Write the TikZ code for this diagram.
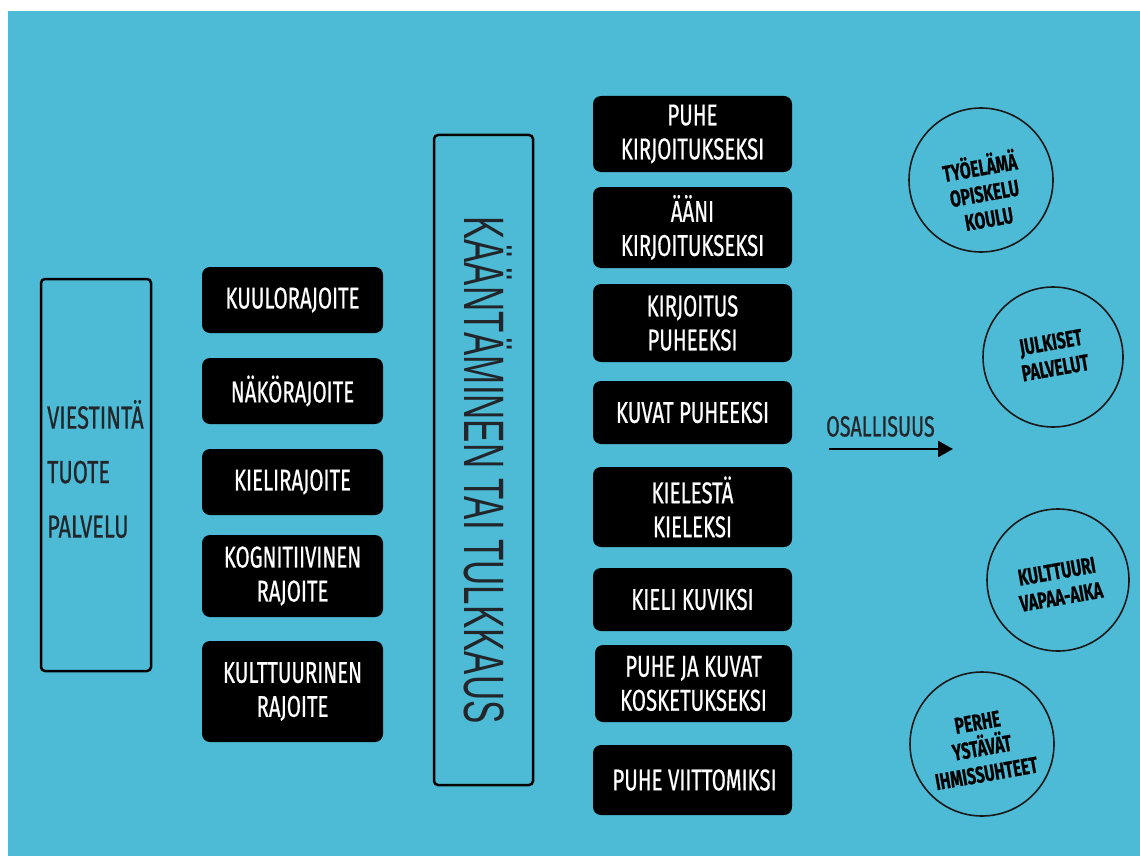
\documentclass[tikz,border=0pt]{standalone}
\usepackage{fontspec}
\usetikzlibrary{arrows.meta}
\newfontfamily\bb{Fira Sans}[FakeStretch=0.68,FakeBold=0.6]
\newfontfamily\bbn{Liberation Sans}
\definecolor{bg}{RGB}{78,187,214}
\definecolor{ink}{RGB}{34,38,42}
\tikzset{
  blk/.style={fill=black, rounded corners=8pt, text=white, align=center, inner sep=0pt,
    font=\bb\fontsize{30}{34}\selectfont},
  outl/.style={draw=black, line width=2.5pt, rounded corners=4pt, inner sep=0pt},
  ring/.style={circle, draw=black!90, line width=1.6pt, inner sep=0pt},
  ringtxt/.style={rotate=10, align=center, text=black, font=\bb\bfseries\fontsize{23}{26}\selectfont}
}
\begin{document}
\begin{tikzpicture}[x=1pt,y=-1pt]
\useasboundingbox (0,0) rectangle (1140,856);
\fill[white] (0,0) rectangle (1140,856);
\fill[bg] (8,11) rectangle (1140,856);

% left box
\node[outl, minimum width=110pt, minimum height=392pt] (src) at (96,475) {};
\node[anchor=west, align=left, text=ink, inner sep=0pt, font=\bb\fontsize{32}{54.5}\selectfont] (srctxt) at (47,469) {VIESTINTÄ\\TUOTE\\PALVELU};

% limitation boxes
\node[blk, minimum width=181pt, minimum height=66pt] (kuulo) at (292.5,300) {KUULORAJOITE};
\node[blk, minimum width=181pt, minimum height=66pt] (nako) at (292.5,391) {NÄKÖRAJOITE};
\node[blk, minimum width=181pt, minimum height=66pt] (kieli) at (292.5,482) {KIELIRAJOITE};
\node[blk, minimum width=181pt, minimum height=82pt] (kogn) at (292.5,576) {KOGNITIIVINEN\\RAJOITE};
\node[blk, minimum width=181pt, minimum height=101pt] (kult) at (292.5,691.5) {KULTTUURINEN\\RAJOITE};

% middle box
\node[outl, minimum width=99pt, minimum height=650pt] (mid) at (483.5,460) {};
\node[rotate=-90, text=ink, inner sep=0pt] (midtxt) at (488,470) {\scalebox{0.612}[1]{\bbn\fontsize{57}{60}\selectfont KÄÄNTÄMINEN TAI TULKKAUS}};

% method boxes
\node[blk, minimum width=199pt, minimum height=76pt] (m1) at (692.5,134) {PUHE\\KIRJOITUKSEKSI};
\node[blk, minimum width=199pt, minimum height=81pt] (m2) at (692.5,227.5) {ÄÄNI\\KIRJOITUKSEKSI};
\node[blk, minimum width=199pt, minimum height=78pt] (m3) at (692.5,323) {KIRJOITUS\\PUHEEKSI};
\node[blk, minimum width=199pt, minimum height=63pt] (m4) at (692.5,412.5) {KUVAT PUHEEKSI};
\node[blk, minimum width=199pt, minimum height=80pt] (m5) at (692.5,507) {KIELESTÄ\\KIELEKSI};
\node[blk, minimum width=199pt, minimum height=63pt] (m6) at (692.5,599.5) {KIELI KUVIKSI};
\node[blk, minimum width=197pt, minimum height=77pt] (m7) at (693.5,683.5) {PUHE JA KUVAT\\KOSKETUKSEKSI};
\node[blk, minimum width=199pt, minimum height=70pt] (m8) at (692.5,780) {\hspace*{4pt}PUHE VIITTOMIKSI};

% arrow
\coordinate (a0) at (829,449);
\coordinate (a1) at (953,449);
\draw[line width=2.6pt, -{Triangle[length=15pt,width=16pt]}] (a0) -- (a1);
\node[anchor=south west, inner sep=0pt, text=ink, font=\bb\fontsize{29}{30}\selectfont] (osal) at (826,437) {OSALLISUUS};

% circles
\node[ring, minimum size=144pt] (c1) at (981,180) {};
\node[ringtxt] (c1t) at (984,191) {TYÖELÄMÄ\\OPISKELU\\KOULU};
\node[ring, minimum size=140pt] (c2) at (1053,357) {};
\node[ringtxt] (c2t) at (1053,355) {JULKISET\\PALVELUT};
\node[ring, minimum size=142pt] (c3) at (1058,580) {};
\node[ringtxt] (c3t) at (1059,584) {KULTTUURI\\VAPAA-AIKA};
\node[ring, minimum size=144pt] (c4) at (982,744) {};
\node[ringtxt] (c4t) at (982,748) {PERHE\\YSTÄVÄT\\IHMISSUHTEET};
\end{tikzpicture}
\end{document}
